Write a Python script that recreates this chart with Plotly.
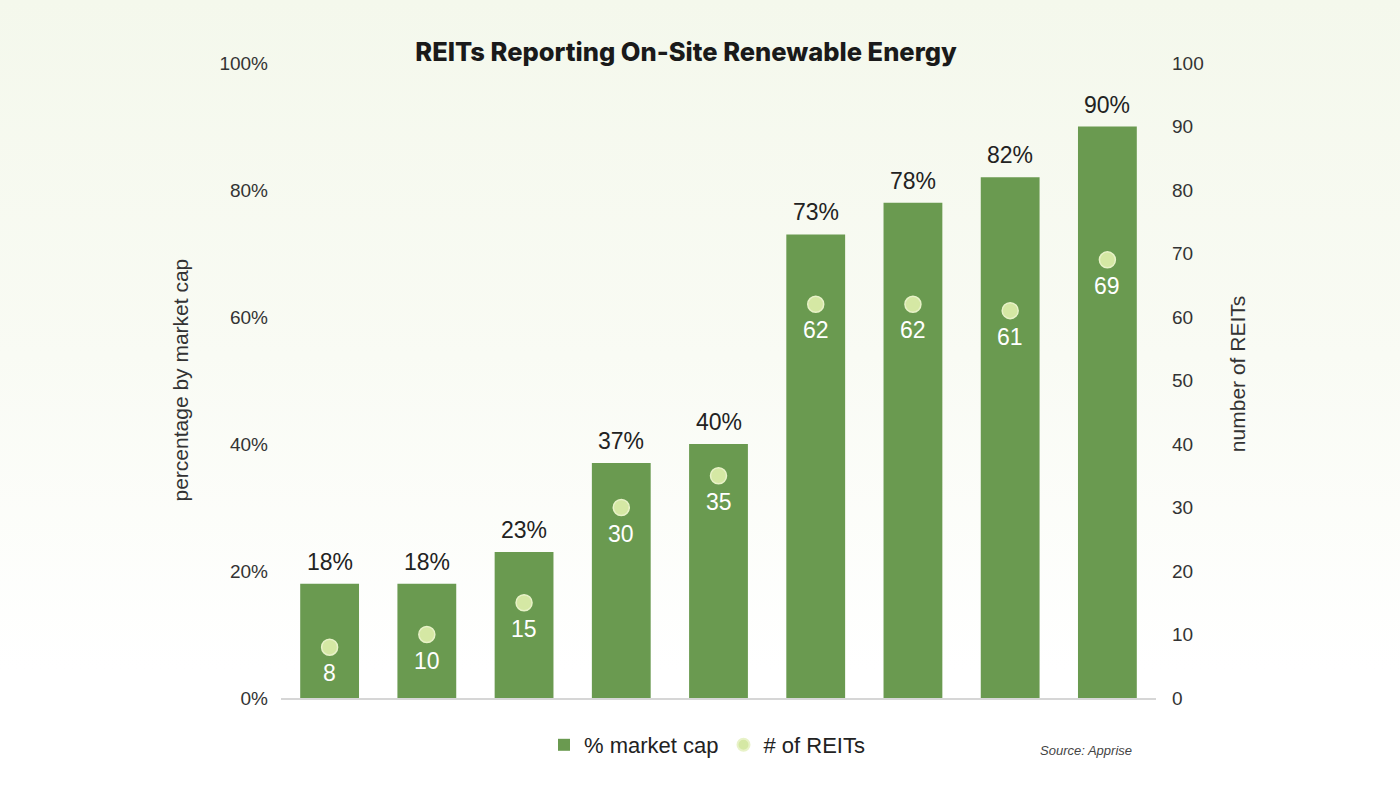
import base64
import plotly.graph_objects as go

# ---- data ----
categories = ["Period 1", "Period 2", "Period 3", "Period 4", "Period 5",
              "Period 6", "Period 7", "Period 8", "Period 9"]
pct_market_cap = [18, 18, 23, 37, 40, 73, 78, 82, 90]
num_reits = [8, 10, 15, 30, 35, 62, 62, 61, 69]
left_ticks = [0, 20, 40, 60, 80, 100]
left_tick_text = ["0%", "20%", "40%", "60%", "80%", "100%"]
right_ticks = [0, 10, 20, 30, 40, 50, 60, 70, 80, 90, 100]

BAR = "#6a9a50"
DOT = "#d5e8a4"
W, H = 1400, 788
L, R, T, B = 281, 244, 63, 90
PW, PH = W - L - R, H - T - B

FONT = "Liberation Sans, Arial, sans-serif"

fig = go.Figure()
fig.add_trace(go.Bar(
    x=categories, y=pct_market_cap, name="% market cap",
    marker=dict(color=BAR, line=dict(width=0)), width=0.605,
    yaxis="y", hoverinfo="skip",
))
fig.add_trace(go.Scatter(
    x=categories, y=num_reits, name="# of REITs", mode="markers",
    marker=dict(color=DOT, size=16, line=dict(color="#e8f2c8", width=1.5)),
    yaxis="y2", hoverinfo="skip",
))

ann = []
for c, v in zip(categories, pct_market_cap):
    ann.append(dict(x=c, y=v, xref="x", yref="y", text=f"{v}%", showarrow=False,
                    yanchor="bottom", yshift=7,
                    font=dict(family=FONT, size=23, color="#222222")))
for c, v in zip(categories, num_reits):
    ann.append(dict(x=c, y=v, xref="x", yref="y2", text=str(v), showarrow=False,
                    yanchor="middle", yshift=-26,
                    font=dict(family=FONT, size=23, color="#ffffff")))
# axis titles
ann.append(dict(x=(180 - L) / PW, y=0.5, xref="paper", yref="paper",
                text="percentage by market cap", textangle=-90, showarrow=False,
                xanchor="center", yanchor="middle",
                font=dict(family=FONT, size=21, color="#333333")))
ann.append(dict(x=(1237 - L) / PW, y=0.51, xref="paper", yref="paper",
                text="number of REITs", textangle=-90, showarrow=False,
                xanchor="center", yanchor="middle",
                font=dict(family=FONT, size=21, color="#333333")))
ann.append(dict(x=(1134 - L) / PW, y=-(750 - (T + PH)) / PH, xref="paper", yref="paper",
                text="<i>Source: Apprise</i>", showarrow=False,
                xanchor="right", yanchor="middle",
                font=dict(family=FONT, size=13, color="#444444")))

svg = (
    f"<svg xmlns='http://www.w3.org/2000/svg' width='{W}' height='{H}' preserveAspectRatio='none'>"
    "<defs><linearGradient id='g' x1='0' y1='0' x2='0' y2='1'>"
    "<stop offset='0' stop-color='#f4f8ec'/>"
    "<stop offset='0.45' stop-color='#f9fbf4'/>"
    "<stop offset='0.85' stop-color='#ffffff'/>"
    "</linearGradient></defs>"
    f"<rect x='0' y='0' width='{W}' height='{H}' fill='url(#g)'/></svg>"
)
uri = "data:image/svg+xml;base64," + base64.b64encode(svg.encode()).decode()

fig.update_layout(
    width=W, height=H,
    margin=dict(l=L, r=R, t=T, b=B, pad=0),
    paper_bgcolor="#ffffff", plot_bgcolor="rgba(0,0,0,0)",
    images=[dict(source=uri, xref="paper", yref="paper",
                 x=-L / PW, y=1 + T / PH, sizex=W / PW, sizey=H / PH,
                 xanchor="left", yanchor="top", sizing="stretch", layer="below")],
    title=dict(text="REITs Reporting On-Site Renewable Energy",
               x=686 / W, xanchor="center", y=1 - 52 / H, yanchor="middle",
               xref="container", yref="container",
               font=dict(family="Inter, sans-serif", size=25.5, color="#1a1a1a",
                         weight=800)),
    xaxis=dict(type="category", range=[-0.5, 8.5], showticklabels=False,
               showgrid=False, zeroline=False, showline=True,
               linecolor="#d6d6d6", linewidth=1.5, ticks=""),
    yaxis=dict(range=[0, 100], tickvals=left_ticks, ticktext=left_tick_text,
               showgrid=False, zeroline=False, showline=False, ticks="",
               ticklabelstandoff=12,
               tickfont=dict(family=FONT, size=19, color="#333333")),
    yaxis2=dict(range=[0, 100], tickvals=right_ticks, overlaying="y", side="right",
                showgrid=False, zeroline=False, showline=False, ticks="",
                ticklabelstandoff=15,
                tickfont=dict(family=FONT, size=19, color="#333333")),
    showlegend=True,
    legend=dict(orientation="h", x=(707 - L) / PW, xanchor="center",
                y=-(745 - (T + PH)) / PH, yanchor="middle",
                bgcolor="rgba(0,0,0,0)",
                font=dict(family=FONT, size=22, color="#222222"),
                itemsizing="constant", itemwidth=30, tracegroupgap=0),
    annotations=ann,
    bargap=0.4,
)

fig.write_html("out.html")
